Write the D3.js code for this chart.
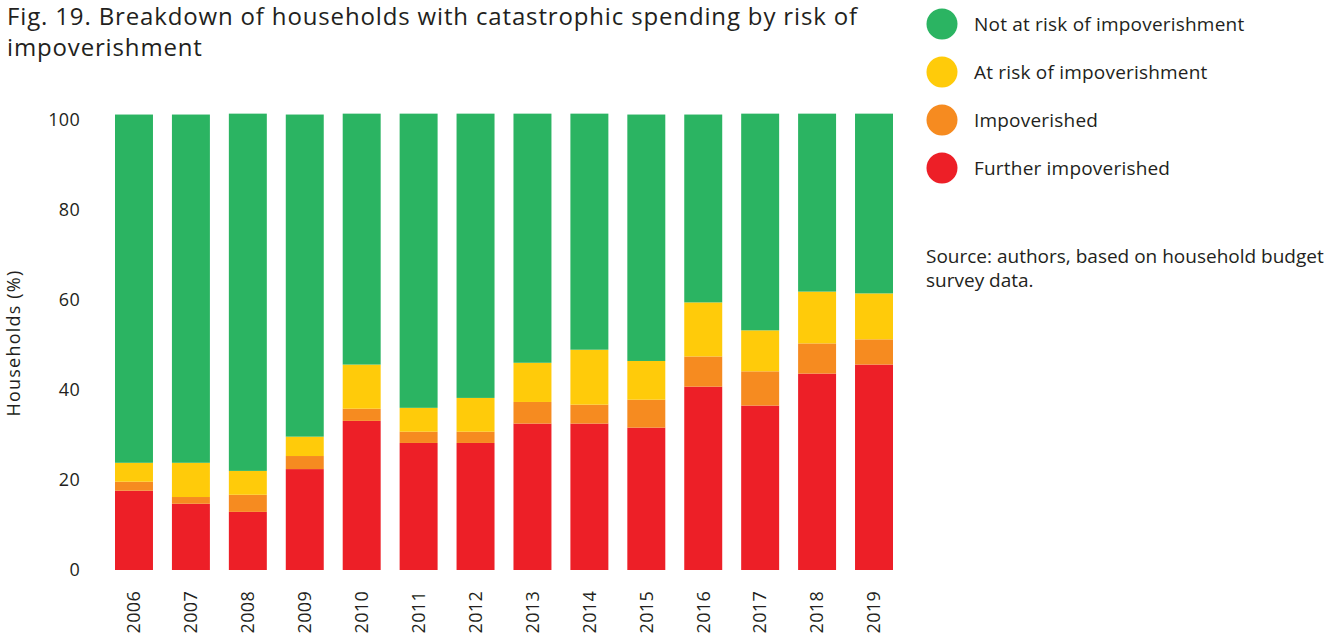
<!DOCTYPE html>
<html>
<head>
<meta charset="utf-8">
<script src="https://cdn.jsdelivr.net/npm/d3@7"></script>
<style>
  html, body { margin: 0; padding: 0; background: #fff; }
  svg { display: block; font-family: "Open Sans", "Noto Sans", sans-serif; }
</style>
</head>
<body>
<svg id="chart" width="1339" height="638"></svg>
<script>
const years = ["2006","2007","2008","2009","2010","2011","2012","2013","2014","2015","2016","2017","2018","2019"];
const furtherImpoverished = [17.6, 14.7, 12.9, 22.4, 33.1, 28.2, 28.2, 32.5, 32.5, 31.6, 40.7, 36.5, 43.6, 45.6];
const impoverished        = [ 2.0,  1.5,  3.8,  2.9,  2.7,  2.5,  2.5,  4.8,  4.2,  6.2,  6.7,  7.6,  6.7,  5.6];
const atRisk              = [ 4.2,  7.6,  5.3,  4.3,  9.8,  5.3,  7.5,  8.7, 12.2,  8.6, 12.0,  9.1, 11.5, 10.2];
const notAtRisk           = [77.3, 77.3, 79.3, 71.5, 55.7, 65.3, 63.1, 55.3, 52.4, 54.7, 41.7, 48.1, 39.5, 39.9];
const yTicks = [0, 20, 40, 60, 80, 100];
const seriesNames = ["Further impoverished", "Impoverished", "At risk of impoverishment", "Not at risk of impoverishment"];
const legendOrder = ["Not at risk of impoverishment", "At risk of impoverishment", "Impoverished", "Further impoverished"];
const colors = {
  "Further impoverished": "#ed1f27",
  "Impoverished": "#f68b20",
  "At risk of impoverishment": "#ffcb0a",
  "Not at risk of impoverishment": "#2bb462"
};
const textColor = "#231f20";

const table = years.map((y, i) => ({
  year: y,
  "Further impoverished": furtherImpoverished[i],
  "Impoverished": impoverished[i],
  "At risk of impoverishment": atRisk[i],
  "Not at risk of impoverishment": notAtRisk[i]
}));

const svg = d3.select("#chart");

const x = d3.scaleBand().domain(years).range([115, 893]).paddingInner(0.333).paddingOuter(0);
const y = d3.scaleLinear().domain([0, 100]).range([570, 119.5]);

const stacked = d3.stack().keys(seriesNames)(table);

svg.append("g").selectAll("g")
  .data(stacked).join("g")
  .attr("fill", d => colors[d.key])
  .selectAll("rect")
  .data(d => d).join("rect")
  .attr("x", d => x(d.data.year))
  .attr("width", x.bandwidth())
  .attr("y", d => y(d[1]))
  .attr("height", d => y(d[0]) - y(d[1]));

// Y axis (labels only)
const yAxis = d3.axisLeft(y).tickValues(yTicks).tickSize(0).tickPadding(0);
const gy = svg.append("g").attr("transform", "translate(80,0)").call(yAxis);
gy.select(".domain").remove();
gy.selectAll("text").attr("font-size", 18).attr("fill", textColor)
  .attr("font-family", "'Open Sans', sans-serif").attr("letter-spacing", 0.3);

// X axis labels rotated
const xAxis = d3.axisBottom(x).tickSize(0).tickPadding(0);
const gx = svg.append("g").attr("transform", "translate(0,591)").call(xAxis);
gx.select(".domain").remove();
gx.selectAll("text")
  .attr("font-size", 18).attr("fill", textColor)
  .attr("font-family", "'Open Sans', sans-serif")
  .attr("letter-spacing", 0.3)
  .attr("text-anchor", "end")
  .attr("transform", "rotate(-90)")
  .attr("x", 0).attr("y", 0).attr("dy", "0.35em");

// Y title
svg.append("text")
  .attr("transform", "translate(14,343) rotate(-90)")
  .attr("text-anchor", "middle").attr("dy", "0.35em")
  .attr("font-size", 18).attr("letter-spacing", 1.2).attr("fill", textColor)
  .text("Households (%)");

// Title
const title = svg.append("text").attr("fill", textColor).attr("font-size", 24).attr("letter-spacing", 0.85);
title.append("tspan").attr("x", 7).attr("y", 25).text("Fig. 19. Breakdown of households with catastrophic spending by risk of");
title.append("tspan").attr("x", 7).attr("y", 56).text("impoverishment");

// Legend
const lg = svg.append("g");
legendOrder.forEach((name, i) => {
  const cy = 24 + i * 48;
  lg.append("circle").attr("cx", 942).attr("cy", cy).attr("r", 15.5).attr("fill", colors[name]);
  lg.append("text").attr("x", 974).attr("y", cy).attr("dy", "0.35em")
    .attr("font-size", 19).attr("letter-spacing", 0.2).attr("fill", textColor).text(name);
});

// Source
const src = svg.append("text").attr("fill", textColor).attr("font-size", 19);
src.append("tspan").attr("x", 926).attr("y", 263).text("Source: authors, based on household budget");
src.append("tspan").attr("x", 926).attr("y", 287).text("survey data.");
</script>
</body>
</html>
